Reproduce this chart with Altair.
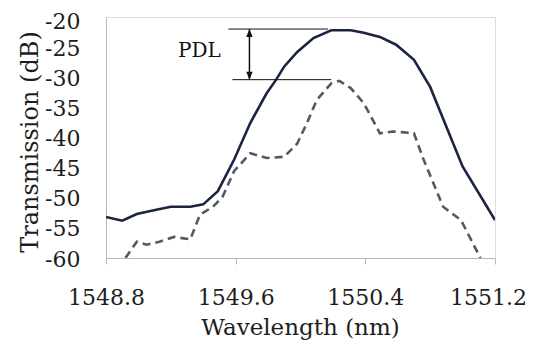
import altair as alt
import pandas as pd

# ---- data ----
wl_solid = [1548.80, 1548.90, 1548.99, 1549.11, 1549.20, 1549.32, 1549.40, 1549.49,
            1549.59, 1549.69, 1549.79, 1549.85, 1549.90, 1549.98, 1550.08, 1550.19,
            1550.31, 1550.39, 1550.49, 1550.59, 1550.70, 1550.80, 1550.90, 1551.00, 1551.20]
tr_solid = [-53.2, -53.8, -52.7, -52.0, -51.5, -51.5, -51.1, -48.9,
            -43.7, -37.6, -32.7, -30.4, -28.2, -25.8, -23.5, -22.2,
            -22.2, -22.6, -23.3, -24.6, -27.1, -31.6, -38.2, -44.8, -53.7]

wl_dashed = [1548.92, 1548.99, 1549.05, 1549.13, 1549.22, 1549.32, 1549.38, 1549.46,
             1549.52, 1549.59, 1549.69, 1549.79, 1549.90, 1549.98, 1550.04, 1550.10,
             1550.19, 1550.24, 1550.31, 1550.39, 1550.49, 1550.57, 1550.70, 1550.76,
             1550.88, 1550.99, 1551.11]
tr_dashed = [-60.0, -57.3, -57.8, -57.3, -56.5, -56.9, -52.8, -51.5,
             -49.8, -45.6, -42.6, -43.4, -43.2, -41.0, -37.6, -33.8,
             -31.0, -30.6, -31.8, -34.3, -39.3, -39.0, -39.3, -43.7,
             -51.5, -53.7, -60.0]

x_ticks = [1548.8, 1549.6, 1550.4, 1551.2]
y_ticks = [-60, -55, -50, -45, -40, -35, -30, -25, -20]

pdl_levels = [-22.0, -30.4]
pdl_x_start = [1549.555, 1549.58]
pdl_x_end = [1550.17, 1550.19]
pdl_arrow_x = 1549.685
pdl_label = ["PDL"]
pdl_label_x = [1549.376]
pdl_label_y = [-26.6]

FONT = "DejaVu Serif"
TXT = "#1e1e1e"
GRAY = "#b8b8b8"

solid_df = pd.DataFrame({"wl": wl_solid, "tr": tr_solid})
dashed_df = pd.DataFrame({"wl": wl_dashed, "tr": tr_dashed})
hlines_df = pd.DataFrame({"x": pdl_x_start, "x2": pdl_x_end, "y": pdl_levels})
arrow_df = pd.DataFrame({"x": [pdl_arrow_x], "y": [pdl_levels[0]], "y2": [pdl_levels[1]]})
head_up_df = pd.DataFrame({"x": [pdl_arrow_x], "y": [pdl_levels[0]]})
head_dn_df = pd.DataFrame({"x": [pdl_arrow_x], "y": [pdl_levels[1]]})
label_df = pd.DataFrame({"t": pdl_label, "x": pdl_label_x, "y": pdl_label_y})

xs = alt.Scale(domain=[1548.8, 1551.2], nice=False, zero=False)
ys = alt.Scale(domain=[-60, -20], nice=False, zero=False)

x_axis = alt.Axis(values=x_ticks, tickCount=len(x_ticks), format=".1f", grid=False,
                  domainColor=GRAY, tickColor=GRAY, tickSize=6,
                  labelFont=FONT, labelFontSize=22, labelColor=TXT,
                  labelBaseline="alphabetic", labelPadding=40, labelFlush=False,
                  labelOverlap=False,
                  labelOffset={"condition": {"test": "datum.value > 1551", "value": -7},
                               "value": 0},
                  title="Wavelength (nm)", titleFont=FONT, titleFontSize=23,
                  titleFontWeight="normal", titleColor=TXT,
                  titleBaseline="alphabetic", titleY=76, titleX=194, titleAlign="center")
y_axis = alt.Axis(values=y_ticks, tickCount=len(y_ticks), grid=False, ticks=False, tickSize=0,
                  labelExpr="'' + datum.value",
                  domainColor=GRAY, labelFont=FONT, labelFontSize=22, labelColor=TXT,
                  labelPadding=26, labelFlush=False, labelOverlap=False,
                  labelOffset={"condition": {"test": "datum.value > -21", "value": 4},
                               "value": 1},
                  title="Transmission (dB)", titleFont=FONT, titleFontSize=24,
                  titleFontWeight="normal", titleColor=TXT,
                  titleBaseline="alphabetic", titleX=-69, titleY=124.5, titleAlign="center")

base_x = alt.X("wl:Q", scale=xs, axis=x_axis)
base_y = alt.Y("tr:Q", scale=ys, axis=y_axis)

solid = alt.Chart(solid_df).mark_line(color="#1b2442", strokeWidth=2.6, clip=True).encode(
    x=base_x, y=base_y)
dashed = alt.Chart(dashed_df).mark_line(color="#4d5b66", strokeWidth=2.6,
                                        strokeDash=[8, 5], clip=True).encode(
    x=alt.X("wl:Q", scale=xs), y=alt.Y("tr:Q", scale=ys))

hlines = alt.Chart(hlines_df).mark_rule(color="#111111", strokeWidth=1).encode(
    x=alt.X("x:Q", scale=xs), x2="x2:Q", y=alt.Y("y:Q", scale=ys))
arrow = alt.Chart(arrow_df).mark_rule(color="#111111", strokeWidth=1.5).encode(
    x=alt.X("x:Q", scale=xs), y=alt.Y("y:Q", scale=ys), y2="y2:Q")
head_up = alt.Chart(head_up_df).mark_point(filled=True, color="#111111", opacity=1,
                                           shape="M0,0L-0.4,1L0.4,1Z", size=256).encode(
    x=alt.X("x:Q", scale=xs), y=alt.Y("y:Q", scale=ys))
head_dn = alt.Chart(head_dn_df).mark_point(filled=True, color="#111111", opacity=1,
                                           shape="M0,0L-0.4,-1L0.4,-1Z", size=256).encode(
    x=alt.X("x:Q", scale=xs), y=alt.Y("y:Q", scale=ys))
label = alt.Chart(label_df).mark_text(font=FONT, fontSize=20, color="#111111",
                                      align="center", baseline="alphabetic").encode(
    x=alt.X("x:Q", scale=xs), y=alt.Y("y:Q", scale=ys), text="t:N")

chart = alt.layer(solid, dashed, hlines, arrow, head_up, head_dn, label).properties(
    width=389, height=241,
    autosize=alt.AutoSizeParams(type="none"),
    padding={"left": 98, "top": 9, "right": 32, "bottom": 82},
).configure_view(stroke=GRAY, strokeWidth=1).configure(background="white")

chart.save("out.html", embed_options={"renderer": "svg", "actions": False})
